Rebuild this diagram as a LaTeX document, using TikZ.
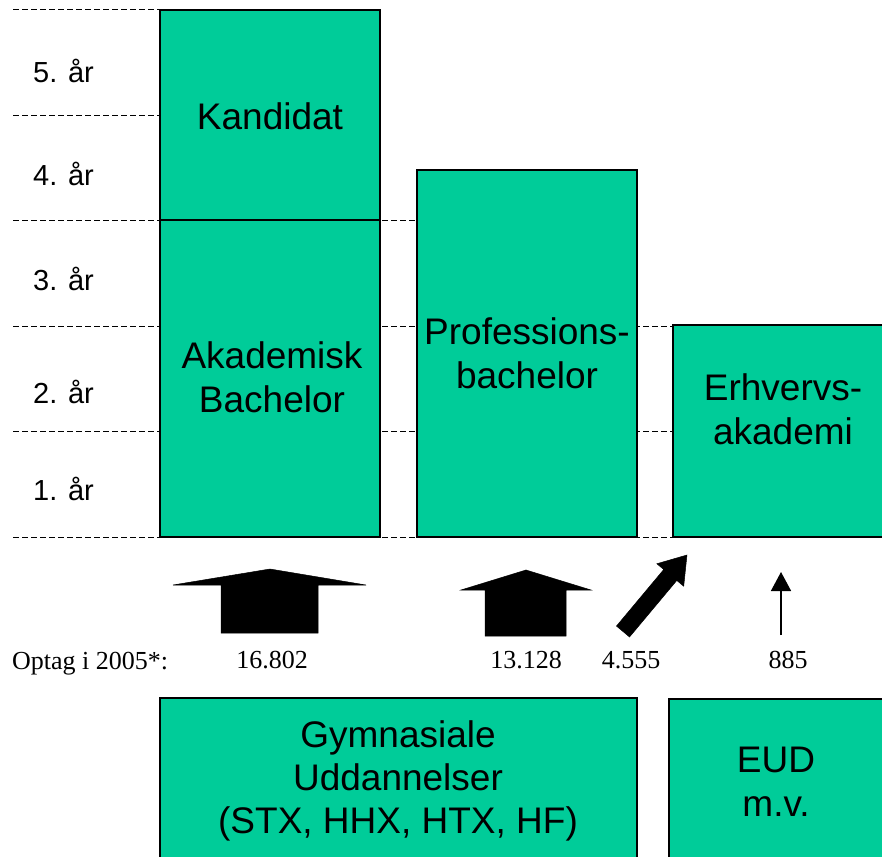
\documentclass[tikz,border=0pt]{standalone}
\usepackage{fontspec}
\setmainfont{Liberation Sans}
\newfontfamily\serifnum{Liberation Serif}
\usetikzlibrary{arrows.meta}
\definecolor{boxgreen}{RGB}{0,204,153}
\begin{document}
\begin{tikzpicture}[x=1pt,y=-1pt,
  box/.style={draw=black, line width=2pt, fill=boxgreen, inner sep=0pt, outer sep=0pt, anchor=north west},
  gridline/.style={dash pattern=on 6pt off 3pt, line width=1pt},
  bigtxt/.style={font=\fontsize{37}{44}\selectfont, align=center, anchor=base, inner sep=0pt},
  yeartxt/.style={font=\fontsize{29}{34}\selectfont, anchor=base west, inner sep=0pt},
  numtxt/.style={font=\serifnum\fontsize{26}{30}\selectfont, anchor=base, inner sep=0pt},
  blockarrow/.style={fill=black, draw=black, line width=0.5pt, line join=miter}]
\useasboundingbox (0,0) rectangle (882,856);
\clip (0,0) rectangle (882,856);

% year grid lines
\foreach \yy/\xe in {10/160, 115/160, 220/417, 326/673, 431/673, 537/673}
  \draw[gridline] (13,\yy) -- (\xe,\yy);

% boxes
\node[box, minimum width=220pt, minimum height=210pt] (kand) at (160,10) {};
\node[box, minimum width=220pt, minimum height=317pt] (akad) at (160,220) {};
\node[box, minimum width=220pt, minimum height=367pt] (prof) at (417,170) {};
\node[box, minimum width=230pt, minimum height=212pt] (erhv) at (673,325) {};
\node[box, minimum width=477pt, minimum height=180pt] (gymn) at (160,698) {};
\node[box, minimum width=230pt, minimum height=180pt] (eud) at (669,699) {};

% box texts (anchor = baseline of last line)
\node[bigtxt] (kandtxt) at (270,129) {Kandidat};
\node[bigtxt] (akadtxt) at (272,412) {Akademisk\\Bachelor};
\node[bigtxt] (proftxt) at (527,388) {Professions-\\bachelor};
\node[bigtxt] (erhvtxt) at (783,444) {Erhvervs-\\akademi};
\node[bigtxt, font=\fontsize{37}{43}\selectfont] (gymntxt) at (398,833) {Gymnasiale\\Uddannelser\\(STX, HHX, HTX, HF)};
\node[bigtxt] (eudtxt) at (776,816) {EUD\\m.v.};

% year labels
\node[yeartxt] (y5) at (33,83) {5. år};
\node[yeartxt] (y4) at (33,185) {4. år};
\node[yeartxt] (y3) at (33,290) {3. år};
\node[yeartxt] (y2) at (33,403) {2. år};
\node[yeartxt] (y1) at (33,500) {1. år};

% intake labels
\node[numtxt, anchor=base west] (optag) at (12,669) {Optag i 2005*:};
\node[numtxt] (n1) at (272,668) {16.802};
\node[numtxt] (n2) at (526,668) {13.128};
\node[numtxt] (n3) at (631,668) {4.555};
\node[numtxt] (n4) at (788,668) {885};

% block arrows
\path[blockarrow] (173,585) -- (270,569) -- (366,585) -- (318,585) -- (318,633)
  -- (221,633) -- (221,585) -- cycle;
\path[blockarrow] (461,590) -- (526,570) -- (591,590) -- (566,590) -- (566,636)
  -- (485,636) -- (485,590) -- cycle;
\begin{scope}[shift={(623,631.5)}, rotate=50.1]
  \path[blockarrow] (0,-8.5) -- (73.7,-8.5) -- (73.7,-17.5) -- (99.7,0)
    -- (73.7,17.5) -- (73.7,8.5) -- (0,8.5) -- cycle;
\end{scope}

% thin arrow
\coordinate (thinfrom) at (781,635);
\coordinate (thinto) at (781,572);
\draw[line width=1.5pt, -{Triangle[width=20pt,length=19pt]}] (thinfrom) -- (thinto);
\end{tikzpicture}
\end{document}
